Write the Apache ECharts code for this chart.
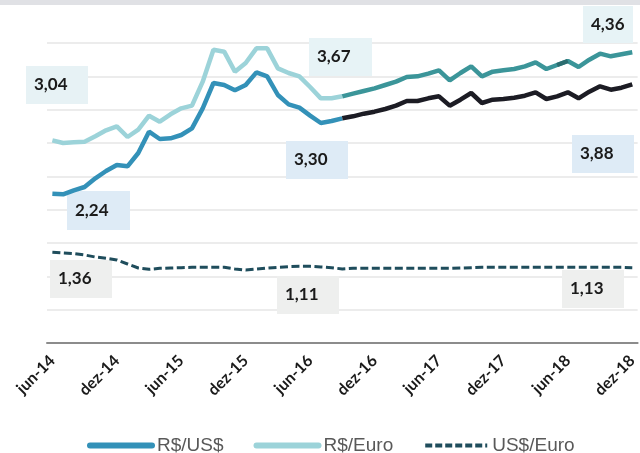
<!DOCTYPE html>
<html>
<head>
<meta charset="utf-8">
<script src="https://cdn.jsdelivr.net/npm/echarts@6/dist/echarts.min.js"></script>
<style>
  html, body { margin: 0; padding: 0; background: #fff; }
  #chart { width: 640px; height: 453px; }
</style>
</head>
<body>
<div id="chart"></div>
<script>
  // meses de jun-14 a dez-18
  const monthNames = ['jan', 'fev', 'mar', 'abr', 'mai', 'jun', 'jul', 'ago', 'set', 'out', 'nov', 'dez']
  const months = []
  for (let y = 14; y <= 18; y++) {
    for (let m = 0; m < 12; m++) {
      if (y === 14 && m < 5) continue
      months.push(monthNames[m] + '-' + y)
    }
  }

  // indice onde comeca a projecao (set-16)
  const projStart = 27
  // trecho mais escuro no R$/Euro (mai-18 a jun-18)
  const darkSeg = [47, 48]

  const rsUsd = [
    2.24, 2.23, 2.29, 2.34, 2.47, 2.58, 2.67, 2.65, 2.85, 3.17,
    3.06, 3.07, 3.12, 3.22, 3.52, 3.90, 3.87, 3.79, 3.87, 4.06,
    4.00, 3.72, 3.58, 3.53, 3.41, 3.30, 3.33, 3.37, 3.40, 3.44,
    3.47, 3.51, 3.56, 3.63, 3.63, 3.67, 3.70, 3.56, 3.65, 3.75,
    3.60, 3.65, 3.66, 3.68, 3.71, 3.76, 3.66, 3.70, 3.76, 3.67,
    3.77, 3.85, 3.80, 3.83, 3.88
  ]
  const rsEur = [
    3.04, 3.00, 3.01, 3.02, 3.10, 3.19, 3.25, 3.09, 3.20, 3.41,
    3.32, 3.43, 3.52, 3.56, 3.92, 4.40, 4.37, 4.07, 4.20, 4.42,
    4.42, 4.12, 4.05, 4.00, 3.84, 3.67, 3.67, 3.70, 3.74, 3.78,
    3.82, 3.87, 3.92, 3.99, 4.00, 4.04, 4.09, 3.94, 4.05, 4.15,
    4.00, 4.07, 4.09, 4.11, 4.15, 4.21, 4.11, 4.17, 4.23, 4.14,
    4.25, 4.34, 4.30, 4.33, 4.36
  ]
  const usdEur = [
    1.36, 1.35, 1.34, 1.32, 1.29, 1.27, 1.245, 1.185, 1.125, 1.105,
    1.12, 1.125, 1.13, 1.135, 1.135, 1.135, 1.135, 1.11, 1.095, 1.11,
    1.125, 1.135, 1.145, 1.15, 1.15, 1.14, 1.13, 1.11, 1.12, 1.12,
    1.12, 1.12, 1.12, 1.12, 1.12, 1.12, 1.12, 1.12, 1.125, 1.13,
    1.135, 1.135, 1.135, 1.135, 1.135, 1.135, 1.135, 1.135, 1.135, 1.135,
    1.135, 1.135, 1.135, 1.135, 1.13
  ]

  const yMax = 4.5
  const yStep = 0.5

  function part(arr, from, to) {
    return arr.map((v, i) => (i >= from && i <= to ? v : null))
  }
  function fmt(v) {
    return v.toFixed(2).replace('.', ',')
  }

  const last = months.length - 1
  // caixas de rotulo: [valor, x, y, w, h, cor de fundo]
  const boxes = [
    [rsEur[0], 26, 66, 62, 38, '#e7f2f5'],
    [rsUsd[0], 67, 191, 63, 39, '#deebf6'],
    [rsUsd[25], 286, 141, 62, 38, '#deebf6'],
    [rsEur[26], 309, 38, 63, 38, '#e7f3f6'],
    [rsEur[last], 583, 6, 50, 37, '#e7f3f6'],
    [rsUsd[last], 572, 135, 62, 38, '#deebf6'],
    [usdEur[0], 50, 260, 62, 38, '#eeefee'],
    [usdEur[projStart], 277, 276, 62, 38, '#eeefee'],
    [usdEur[last], 562, 270, 62, 38, '#eeefee']
  ]

  const graphics = [{
    type: 'rect', left: 0, top: 0, shape: { width: 640, height: 5 },
    style: { fill: '#e0e1e5' }, z: 10
  }]
  boxes.forEach(b => {
    graphics.push({
      type: 'group', left: b[1], top: b[2], z: 1,
      children: [
        { type: 'rect', z: 1, shape: { x: 0, y: 0, width: b[3], height: b[4] }, style: { fill: b[5] } },
        {
          type: 'text', z: 1, x: 8, y: b[4] / 2,
          style: {
            text: fmt(b[0]), fill: '#1a1a1a', font: 'bold 17px Lato',
            verticalAlign: 'middle'
          }
        }
      ]
    })
  })

  const mychart = echarts.init(document.getElementById('chart'))
  const option = {
    animation: false,
    grid: { left: 47, right: -4, top: 43, bottom: 110 },
    legend: {
      left: 82, top: 431,
      itemWidth: 62, itemHeight: 10, itemGap: 30,
      itemStyle: { opacity: 0 },
      textStyle: { fontFamily: 'Liberation Sans', fontSize: 19, color: '#595959' },
      data: [
        { name: 'R$/US$', itemStyle: { opacity: 0 }, lineStyle: { width: 6, cap: 'round' } },
        { name: 'R$/Euro', itemStyle: { opacity: 0 }, lineStyle: { width: 6, cap: 'round' } },
        { name: 'US$/Euro', itemStyle: { opacity: 0 }, lineStyle: { width: 4, type: [7, 3] } }
      ]
    },
    xAxis: {
      type: 'category',
      data: months,
      boundaryGap: true,
      axisLine: { lineStyle: { color: '#8c8c8c', width: 2 } },
      axisTick: { interval: 5, length: 6, lineStyle: { color: '#8c8c8c', width: 2 } },
      axisLabel: {
        interval: 5, rotate: 45, margin: 15,
        fontFamily: 'Lato', fontWeight: 'bold', fontSize: 16, color: '#1a1a1a'
      },
      splitLine: { show: false }
    },
    yAxis: {
      type: 'value',
      min: 0, max: yMax, interval: yStep,
      axisLine: { show: false },
      axisTick: { show: false },
      axisLabel: { show: false },
      splitLine: { lineStyle: { color: '#ececec', width: 2 } }
    },
    graphic: graphics,
    series: [
      {
        name: 'US$/Euro', type: 'line', data: usdEur, symbol: 'none', z: 3,
        lineStyle: { color: '#1f4d5c', width: 3, type: [8, 3.5] },
        itemStyle: { color: '#1f4d5c' }
      },
      {
        name: 'R$/Euro', type: 'line', data: part(rsEur, 0, projStart), symbol: 'none', z: 3,
        lineStyle: { color: '#9cd3d9', width: 4.5 }, itemStyle: { color: '#9cd3d9' }
      },
      {
        name: 'R$/Euro proj', type: 'line', data: part(rsEur, projStart, last), symbol: 'none', z: 3,
        lineStyle: { color: '#3b9599', width: 4.5 }, itemStyle: { color: '#3b9599' }
      },
      {
        name: 'R$/Euro dest', type: 'line', data: part(rsEur, darkSeg[0], darkSeg[1]), symbol: 'none', z: 3,
        lineStyle: { color: '#2b6c6f', width: 4.5 }, itemStyle: { color: '#2b6c6f' }
      },
      {
        name: 'R$/US$', type: 'line', data: part(rsUsd, 0, projStart), symbol: 'none', z: 3,
        lineStyle: { color: '#3391b8', width: 4.5 }, itemStyle: { color: '#3391b8' }
      },
      {
        name: 'R$/US$ proj', type: 'line', data: part(rsUsd, projStart, last), symbol: 'none', z: 3,
        lineStyle: { color: '#1c1c24', width: 4.5 }, itemStyle: { color: '#1c1c24' }
      }
    ]
  }
  mychart.setOption(option)
</script>
</body>
</html>
